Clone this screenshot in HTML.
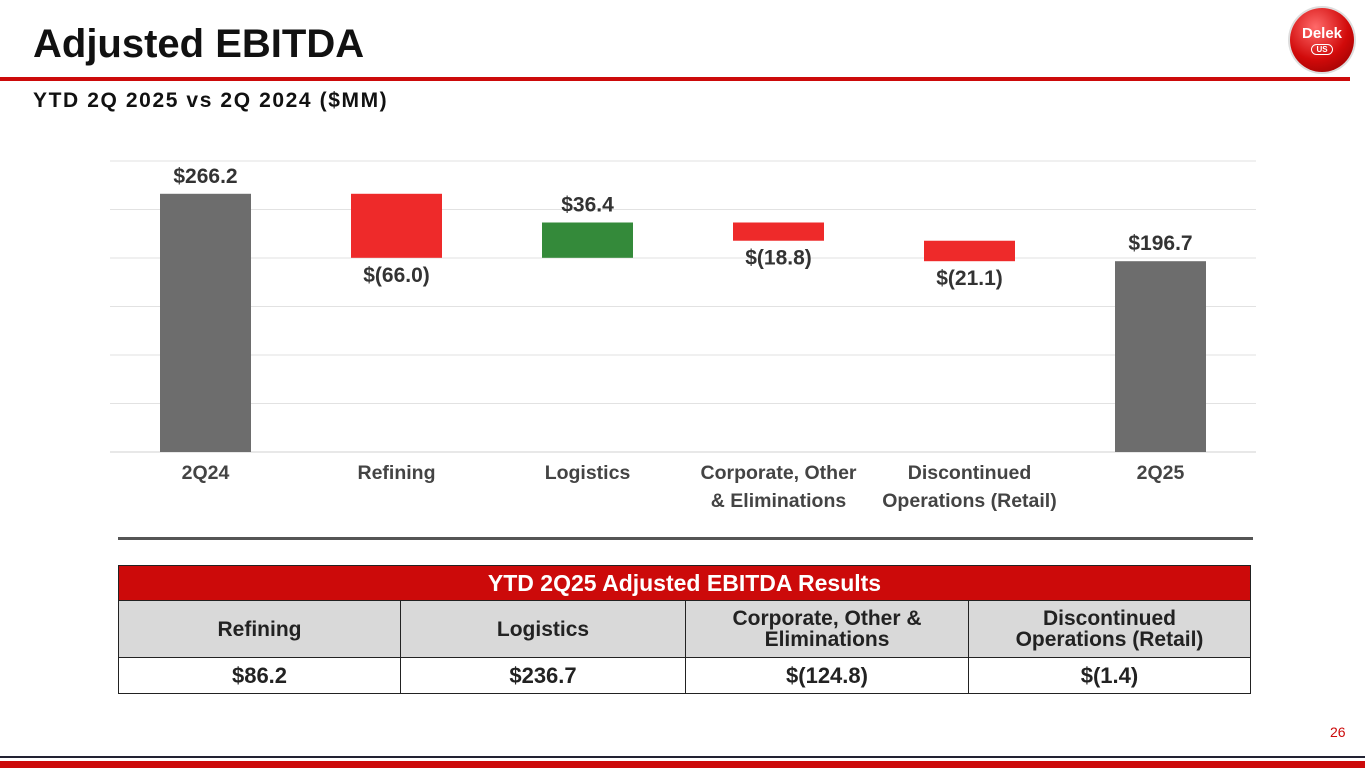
<!DOCTYPE html>
<html><head><meta charset="utf-8"><style>
body{margin:0;width:1365px;height:768px;position:relative;background:#fff;font-family:"Liberation Sans",sans-serif;overflow:hidden}
.abs{position:absolute}
table{border-collapse:collapse;position:absolute;left:118px;top:565px;width:1133px;font-weight:bold;text-align:center}
td{border:1.5px solid #222;padding:0;color:#222}
</style></head><body>
<div class="abs" style="left:33px;top:22px;font-size:40px;font-weight:bold;color:#111">Adjusted EBITDA</div>
<div class="abs" style="left:0;top:77px;width:1350px;height:4px;background:#cc0a0a"></div>
<div class="abs" style="left:33px;top:89px;font-size:21px;font-weight:bold;color:#111;letter-spacing:1.6px">YTD 2Q 2025 vs 2Q 2024 ($MM)</div>
<div class="abs" style="left:1290px;top:8px;width:64px;height:64px;border-radius:50%;background:radial-gradient(circle at 40% 30%,#ff6a6a,#d10a0a 55%,#8a0000);box-shadow:0 0 0 2px #ddd;color:#fff;font-weight:bold;text-align:center">
<div style="font-size:15px;margin-top:17px">Delek</div>
<div style="font-size:8px;border:1.5px solid #fff;border-radius:6px;width:20px;margin:2px auto 0">US</div></div>
<svg class="abs" style="left:0;top:0" width="1365" height="540" id="chart"></svg>
<div class="abs" style="left:118px;top:537px;width:1135px;height:3px;background:#555"></div>
<table>
<tr style="height:35px;background:#cc0a0a"><td colspan="4" style="color:#fff;font-size:23px">YTD 2Q25 Adjusted EBITDA Results</td></tr>
<tr style="height:57px;background:#d9d9d9;font-size:21px;line-height:21px"><td style="width:281px">Refining</td><td style="width:284px">Logistics</td><td style="width:282px">Corporate, Other &amp;<br>Eliminations</td><td>Discontinued<br>Operations (Retail)</td></tr>
<tr style="height:36px;font-size:22px"><td>$86.2</td><td>$236.7</td><td>$(124.8)</td><td>$(1.4)</td></tr>
</table>
<div class="abs" style="left:1330px;top:724px;font-size:14px;color:#cc0a0a">26</div>
<div class="abs" style="left:0;top:756px;width:1365px;height:2px;background:#223"></div>
<div class="abs" style="left:0;top:761px;width:1365px;height:7px;background:#cc0a0a"></div>
<script>
const categories=[["2Q24"],["Refining"],["Logistics"],["Corporate, Other","& Eliminations"],["Discontinued","Operations (Retail)"],["2Q25"]];
const values=[266.2,-66.0,36.4,-18.8,-21.1,196.7];
const kinds=["total","delta","delta","delta","delta","total"];
const labels=["$266.2","$(66.0)","$36.4","$(18.8)","$(21.1)","$196.7"];
const ticks=[0,50,100,150,200,250,300];
const svg=document.getElementById('chart');const NS="http://www.w3.org/2000/svg";
const x0=110,x1=1256,yb=452,yt=161,vmax=300;
const y=v=>yb-(v/vmax)*(yb-yt);
const cw=(x1-x0)/categories.length;
function el(t,a){const e=document.createElementNS(NS,t);for(const k in a)e.setAttribute(k,a[k]);svg.appendChild(e);return e;}
ticks.forEach(t=>{const l=el('line',{x1:x0,x2:x1,y1:y(t),y2:y(t),stroke:t==0?'#d0d0d0':'#e2e2e2','stroke-width':1});

});
let run=0;
categories.forEach((c,i)=>{const cx=x0+cw*(i+0.5);let top,bot,col;
if(kinds[i]=="total"){top=values[i];bot=0;run=values[i];col='#6d6d6d';}
else{const s=run;run+=values[i];top=Math.max(s,run);bot=Math.min(s,run);col=values[i]<0?'#ee2a2a':'#348a3a';}
const r=el('rect',{x:cx-45.5,y:y(top),width:91,height:y(bot)-y(top),fill:col});


const ly=values[i]<0?y(bot)+24:y(top)-11;
const t=el('text',{x:cx,y:ly,'text-anchor':'middle','font-size':21,'font-weight':'bold',fill:'#333','font-family':'Liberation Sans, sans-serif'});t.textContent=labels[i];


c.forEach((s,j)=>{const tt=el('text',{x:cx,y:479+j*28,'text-anchor':'middle','font-size':19.5,'font-weight':'bold',fill:'#444','font-family':'Liberation Sans, sans-serif'});tt.textContent=s;

});
});
</script>
</body></html>
